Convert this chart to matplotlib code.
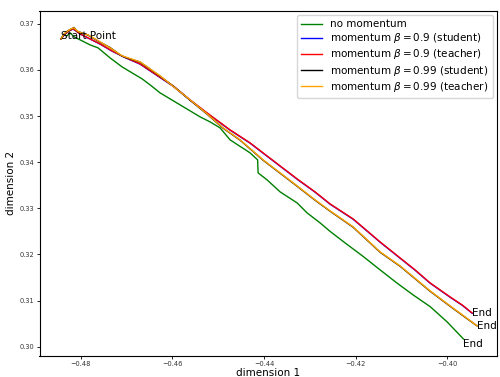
import numpy as np
import matplotlib
matplotlib.use("Agg")
import matplotlib.pyplot as plt

# trajectories in the 2-d parameter plane
x_plain = [-0.48430, -0.48364, -0.48299, -0.48233, -0.48146, -0.48015, -0.47797, -0.47623,
           -0.47361, -0.47099, -0.46881, -0.46662, -0.46488, -0.46270, -0.46052, -0.45833,
           -0.45615, -0.45397, -0.45179, -0.44961, -0.44742, -0.44524, -0.44306, -0.44142,
           -0.44131, -0.43935, -0.43651, -0.43280, -0.43062, -0.42778, -0.42560, -0.42233,
           -0.41840, -0.41469, -0.41105, -0.40749, -0.40378, -0.40007, -0.39652]
y_plain = [0.36675, 0.36761, 0.36740, 0.36805, 0.36718, 0.36653, 0.36544, 0.36479,
           0.36262, 0.36067, 0.35937, 0.35807, 0.35677, 0.35503, 0.35373, 0.35243,
           0.35113, 0.34983, 0.34874, 0.34744, 0.34484, 0.34343, 0.34202, 0.34050,
           0.33768, 0.33616, 0.33356, 0.33117, 0.32900, 0.32683, 0.32499, 0.32249,
           0.31957, 0.31664, 0.31382, 0.31121, 0.30868, 0.30536, 0.30167]

x_m09 = [-0.48430, -0.48343, -0.48255, -0.48168, -0.48103, -0.48015, -0.47841, -0.47579,
         -0.47317, -0.47055, -0.46706, -0.46379, -0.45986, -0.45615, -0.45244, -0.44742,
         -0.44306, -0.44022, -0.43651, -0.43280, -0.42888, -0.42560, -0.42058, -0.41469,
         -0.41033, -0.40706, -0.40378, -0.39942, -0.39680, -0.39462]
y_m09_student = [0.36675, 0.36780, 0.36845, 0.36888, 0.36845, 0.36780, 0.36692, 0.36560,
                 0.36408, 0.36278, 0.36126, 0.35908, 0.35648, 0.35345, 0.35062, 0.34694,
                 0.34412, 0.34195, 0.33913, 0.33631, 0.33349, 0.33088, 0.32763, 0.32264,
                 0.31917, 0.31657, 0.31375, 0.31071, 0.30898, 0.30724]
y_m09_teacher = [0.36675, 0.36783, 0.36848, 0.36892, 0.36848, 0.36783, 0.36696, 0.36566,
                 0.36414, 0.36284, 0.36132, 0.35915, 0.35655, 0.35351, 0.35069, 0.34701,
                 0.34419, 0.34202, 0.33920, 0.33638, 0.33356, 0.33095, 0.32770, 0.32271,
                 0.31924, 0.31664, 0.31382, 0.31078, 0.30905, 0.30731]

x_m099 = [-0.48430, -0.48364, -0.48277, -0.48212, -0.48146, -0.48081, -0.47993, -0.47841,
          -0.47579, -0.47361, -0.47099, -0.46706, -0.46270, -0.45942, -0.45615, -0.45244,
          -0.44895, -0.44524, -0.44022, -0.43651, -0.43280, -0.42888, -0.42560, -0.42058,
          -0.41469, -0.41033, -0.40378, -0.39942, -0.39615, -0.39353]
y_m099_student = [0.36675, 0.36778, 0.36852, 0.36885, 0.36920, 0.36840, 0.36810, 0.36755,
                  0.36603, 0.36486, 0.36298, 0.36170, 0.35866, 0.35618, 0.35344, 0.35041,
                  0.34737, 0.34478, 0.34043, 0.33761, 0.33479, 0.33175, 0.32937, 0.32590,
                  0.32047, 0.31743, 0.31201, 0.30876, 0.30637, 0.30449]
y_m099_teacher = [0.36675, 0.36783, 0.36848, 0.36892, 0.36913, 0.36848, 0.36805, 0.36761,
                  0.36610, 0.36479, 0.36306, 0.36176, 0.35872, 0.35612, 0.35351, 0.35048,
                  0.34744, 0.34484, 0.34050, 0.33768, 0.33486, 0.33182, 0.32944, 0.32597,
                  0.32054, 0.31750, 0.31208, 0.30883, 0.30644, 0.30449]

fig = plt.figure(figsize=(5, 3.77), dpi=100)
ax = fig.add_axes([0.079, 0.056, 0.915, 0.915])

lw = 1.0
ax.plot(x_plain, y_plain, color="green", lw=lw, label="no momentum")
ax.plot(x_m09, y_m09_student, color="blue", lw=lw, label=r"momentum $\beta = 0.9$ (student)")
ax.plot(x_m09, y_m09_teacher, color="red", lw=lw, label=r"momentum $\beta = 0.9$ (teacher)")
ax.plot(x_m099, y_m099_student, color="black", lw=lw, label=r"momentum $\beta = 0.99$ (student)")
ax.plot(x_m099, y_m099_teacher, color="orange", lw=lw, label=r"momentum $\beta = 0.99$ (teacher)")

ax.text(x_plain[0], y_plain[0], "Start Point", fontsize=7.5)
ax.text(x_plain[-1], y_plain[-1], "End", fontsize=7.5, va="top")
ax.text(x_m09[-1], y_m09_teacher[-1], "End", fontsize=7.5, va="center")
ax.text(x_m099[-1], y_m099_student[-1], "End", fontsize=7.5, va="center")

ax.set_xlim(-0.4890, -0.3892)
ax.set_ylim(0.2980, 0.3728)
ax.set_xticks([-0.48, -0.46, -0.44, -0.42, -0.40])
ax.set_yticks([0.30, 0.31, 0.32, 0.33, 0.34, 0.35, 0.36, 0.37])
ax.tick_params(labelsize=4.8, length=2, width=0.6, pad=1.5, labelcolor="#333333")
ax.set_xlabel("dimension 1", fontsize=7.5, labelpad=1)
ax.set_ylabel("dimension 2", fontsize=7.5, labelpad=3)

ax.legend(loc="upper right", fontsize=7.5, labelspacing=0.2, handlelength=2.0,
          borderaxespad=0.4)

fig.savefig("out.png", dpi=100)
